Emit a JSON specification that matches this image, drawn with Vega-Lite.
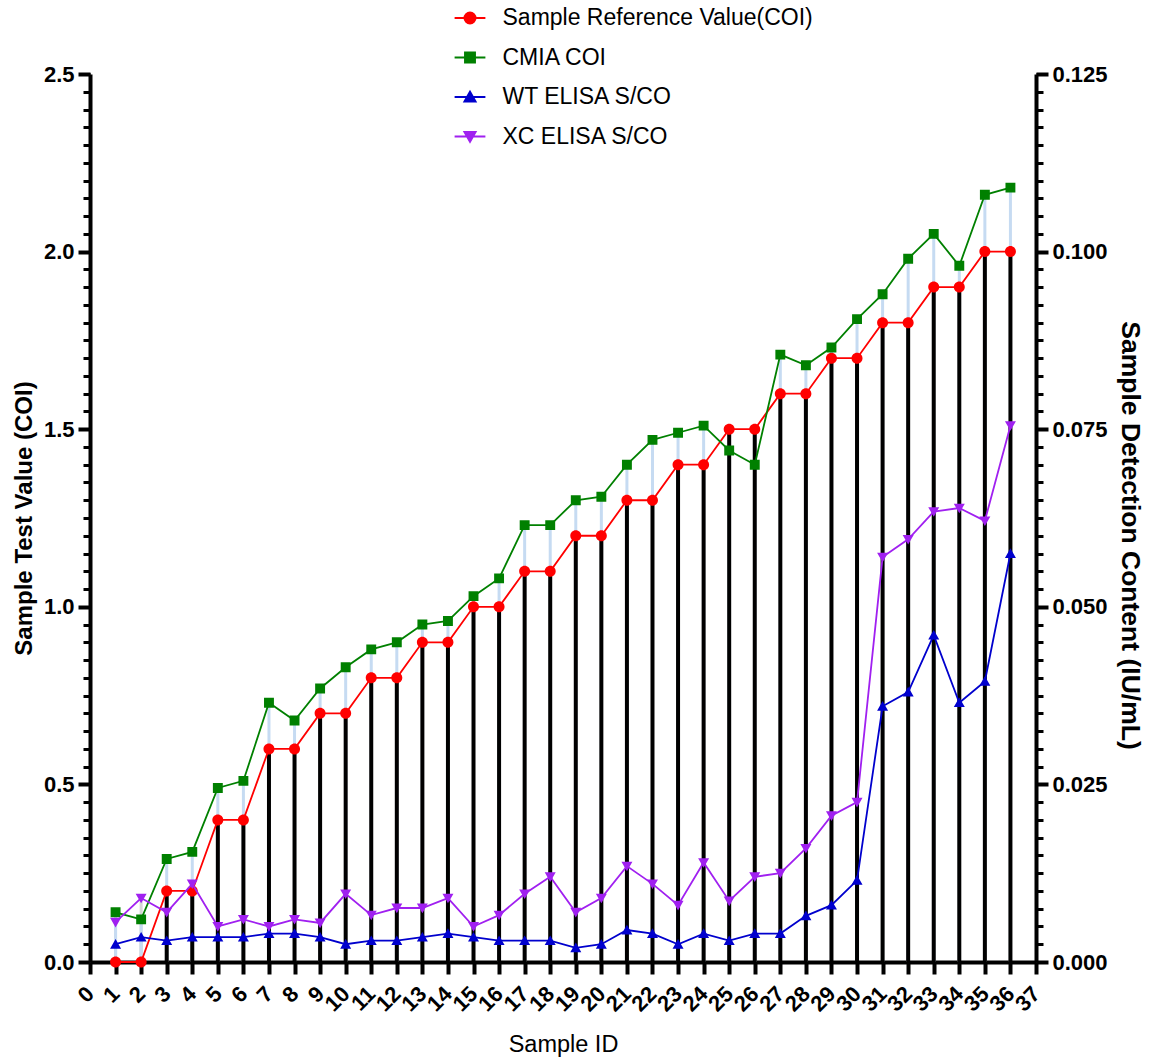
{
  "$schema": "https://vega.github.io/schema/vega-lite/v6.json",
  "width": 946,
  "height": 888,
  "autosize": {"type": "none"},
  "padding": {"left": 90, "top": 74, "right": 123, "bottom": 96},
  "config": {
    "view": {"stroke": null},
    "font": "Liberation Sans",
    "axis": {
      "domainColor": "black", "domainWidth": 4, "tickColor": "black", "tickWidth": 4,
      "tickSize": 12, "grid": false, "labelFont": "Liberation Sans", "labelFontWeight": "bold",
      "labelFontSize": 22, "labelColor": "black", "titleFont": "Liberation Sans",
      "titleFontSize": 24, "titleColor": "black", "titleFontWeight": "bold", "labelPadding": 4
    },
    "legend": {
      "orient": "none", "legendX": 368.5, "legendY": -67.5, "title": null,
      "labelFontSize": 23, "labelColor": "black", "labelFont": "Liberation Sans", "labelLimit": 0,
      "rowPadding": 15.5, "symbolSize": 121, "symbolStrokeWidth": 2, "labelOffset": 21,
      "padding": 0, "symbolOpacity": 1
    }
  },
  "data": {"values": [
    {"id":1,"series":"Sample Reference Value(COI)","value":0},
    {"id":2,"series":"Sample Reference Value(COI)","value":0},
    {"id":3,"series":"Sample Reference Value(COI)","value":0.2},
    {"id":4,"series":"Sample Reference Value(COI)","value":0.2},
    {"id":5,"series":"Sample Reference Value(COI)","value":0.4},
    {"id":6,"series":"Sample Reference Value(COI)","value":0.4},
    {"id":7,"series":"Sample Reference Value(COI)","value":0.6},
    {"id":8,"series":"Sample Reference Value(COI)","value":0.6},
    {"id":9,"series":"Sample Reference Value(COI)","value":0.7},
    {"id":10,"series":"Sample Reference Value(COI)","value":0.7},
    {"id":11,"series":"Sample Reference Value(COI)","value":0.8},
    {"id":12,"series":"Sample Reference Value(COI)","value":0.8},
    {"id":13,"series":"Sample Reference Value(COI)","value":0.9},
    {"id":14,"series":"Sample Reference Value(COI)","value":0.9},
    {"id":15,"series":"Sample Reference Value(COI)","value":1.0},
    {"id":16,"series":"Sample Reference Value(COI)","value":1.0},
    {"id":17,"series":"Sample Reference Value(COI)","value":1.1},
    {"id":18,"series":"Sample Reference Value(COI)","value":1.1},
    {"id":19,"series":"Sample Reference Value(COI)","value":1.2},
    {"id":20,"series":"Sample Reference Value(COI)","value":1.2},
    {"id":21,"series":"Sample Reference Value(COI)","value":1.3},
    {"id":22,"series":"Sample Reference Value(COI)","value":1.3},
    {"id":23,"series":"Sample Reference Value(COI)","value":1.4},
    {"id":24,"series":"Sample Reference Value(COI)","value":1.4},
    {"id":25,"series":"Sample Reference Value(COI)","value":1.5},
    {"id":26,"series":"Sample Reference Value(COI)","value":1.5},
    {"id":27,"series":"Sample Reference Value(COI)","value":1.6},
    {"id":28,"series":"Sample Reference Value(COI)","value":1.6},
    {"id":29,"series":"Sample Reference Value(COI)","value":1.7},
    {"id":30,"series":"Sample Reference Value(COI)","value":1.7},
    {"id":31,"series":"Sample Reference Value(COI)","value":1.8},
    {"id":32,"series":"Sample Reference Value(COI)","value":1.8},
    {"id":33,"series":"Sample Reference Value(COI)","value":1.9},
    {"id":34,"series":"Sample Reference Value(COI)","value":1.9},
    {"id":35,"series":"Sample Reference Value(COI)","value":2.0},
    {"id":36,"series":"Sample Reference Value(COI)","value":2.0},
    {"id":1,"series":"CMIA COI","value":0.14},
    {"id":2,"series":"CMIA COI","value":0.12},
    {"id":3,"series":"CMIA COI","value":0.29},
    {"id":4,"series":"CMIA COI","value":0.31},
    {"id":5,"series":"CMIA COI","value":0.49},
    {"id":6,"series":"CMIA COI","value":0.51},
    {"id":7,"series":"CMIA COI","value":0.73},
    {"id":8,"series":"CMIA COI","value":0.68},
    {"id":9,"series":"CMIA COI","value":0.77},
    {"id":10,"series":"CMIA COI","value":0.83},
    {"id":11,"series":"CMIA COI","value":0.88},
    {"id":12,"series":"CMIA COI","value":0.90},
    {"id":13,"series":"CMIA COI","value":0.95},
    {"id":14,"series":"CMIA COI","value":0.96},
    {"id":15,"series":"CMIA COI","value":1.03},
    {"id":16,"series":"CMIA COI","value":1.08},
    {"id":17,"series":"CMIA COI","value":1.23},
    {"id":18,"series":"CMIA COI","value":1.23},
    {"id":19,"series":"CMIA COI","value":1.30},
    {"id":20,"series":"CMIA COI","value":1.31},
    {"id":21,"series":"CMIA COI","value":1.40},
    {"id":22,"series":"CMIA COI","value":1.47},
    {"id":23,"series":"CMIA COI","value":1.49},
    {"id":24,"series":"CMIA COI","value":1.51},
    {"id":25,"series":"CMIA COI","value":1.44},
    {"id":26,"series":"CMIA COI","value":1.40},
    {"id":27,"series":"CMIA COI","value":1.71},
    {"id":28,"series":"CMIA COI","value":1.68},
    {"id":29,"series":"CMIA COI","value":1.73},
    {"id":30,"series":"CMIA COI","value":1.81},
    {"id":31,"series":"CMIA COI","value":1.88},
    {"id":32,"series":"CMIA COI","value":1.98},
    {"id":33,"series":"CMIA COI","value":2.05},
    {"id":34,"series":"CMIA COI","value":1.96},
    {"id":35,"series":"CMIA COI","value":2.16},
    {"id":36,"series":"CMIA COI","value":2.18},
    {"id":1,"series":"WT ELISA S/CO","value":0.0025},
    {"id":2,"series":"WT ELISA S/CO","value":0.0035},
    {"id":3,"series":"WT ELISA S/CO","value":0.003},
    {"id":4,"series":"WT ELISA S/CO","value":0.0035},
    {"id":5,"series":"WT ELISA S/CO","value":0.0035},
    {"id":6,"series":"WT ELISA S/CO","value":0.0035},
    {"id":7,"series":"WT ELISA S/CO","value":0.004},
    {"id":8,"series":"WT ELISA S/CO","value":0.004},
    {"id":9,"series":"WT ELISA S/CO","value":0.0035},
    {"id":10,"series":"WT ELISA S/CO","value":0.0025},
    {"id":11,"series":"WT ELISA S/CO","value":0.003},
    {"id":12,"series":"WT ELISA S/CO","value":0.003},
    {"id":13,"series":"WT ELISA S/CO","value":0.0035},
    {"id":14,"series":"WT ELISA S/CO","value":0.004},
    {"id":15,"series":"WT ELISA S/CO","value":0.0035},
    {"id":16,"series":"WT ELISA S/CO","value":0.003},
    {"id":17,"series":"WT ELISA S/CO","value":0.003},
    {"id":18,"series":"WT ELISA S/CO","value":0.003},
    {"id":19,"series":"WT ELISA S/CO","value":0.002},
    {"id":20,"series":"WT ELISA S/CO","value":0.0025},
    {"id":21,"series":"WT ELISA S/CO","value":0.0045},
    {"id":22,"series":"WT ELISA S/CO","value":0.004},
    {"id":23,"series":"WT ELISA S/CO","value":0.0025},
    {"id":24,"series":"WT ELISA S/CO","value":0.004},
    {"id":25,"series":"WT ELISA S/CO","value":0.003},
    {"id":26,"series":"WT ELISA S/CO","value":0.004},
    {"id":27,"series":"WT ELISA S/CO","value":0.004},
    {"id":28,"series":"WT ELISA S/CO","value":0.0065},
    {"id":29,"series":"WT ELISA S/CO","value":0.008},
    {"id":30,"series":"WT ELISA S/CO","value":0.0115},
    {"id":31,"series":"WT ELISA S/CO","value":0.036},
    {"id":32,"series":"WT ELISA S/CO","value":0.038},
    {"id":33,"series":"WT ELISA S/CO","value":0.046},
    {"id":34,"series":"WT ELISA S/CO","value":0.0365},
    {"id":35,"series":"WT ELISA S/CO","value":0.0395},
    {"id":36,"series":"WT ELISA S/CO","value":0.0575},
    {"id":1,"series":"XC ELISA S/CO","value":0.0056},
    {"id":2,"series":"XC ELISA S/CO","value":0.009},
    {"id":3,"series":"XC ELISA S/CO","value":0.007},
    {"id":4,"series":"XC ELISA S/CO","value":0.011},
    {"id":5,"series":"XC ELISA S/CO","value":0.005},
    {"id":6,"series":"XC ELISA S/CO","value":0.006},
    {"id":7,"series":"XC ELISA S/CO","value":0.005},
    {"id":8,"series":"XC ELISA S/CO","value":0.006},
    {"id":9,"series":"XC ELISA S/CO","value":0.0055},
    {"id":10,"series":"XC ELISA S/CO","value":0.0096},
    {"id":11,"series":"XC ELISA S/CO","value":0.0066},
    {"id":12,"series":"XC ELISA S/CO","value":0.0076},
    {"id":13,"series":"XC ELISA S/CO","value":0.0076},
    {"id":14,"series":"XC ELISA S/CO","value":0.009},
    {"id":15,"series":"XC ELISA S/CO","value":0.005},
    {"id":16,"series":"XC ELISA S/CO","value":0.0066},
    {"id":17,"series":"XC ELISA S/CO","value":0.0096},
    {"id":18,"series":"XC ELISA S/CO","value":0.012},
    {"id":19,"series":"XC ELISA S/CO","value":0.007},
    {"id":20,"series":"XC ELISA S/CO","value":0.009},
    {"id":21,"series":"XC ELISA S/CO","value":0.0135},
    {"id":22,"series":"XC ELISA S/CO","value":0.011},
    {"id":23,"series":"XC ELISA S/CO","value":0.008},
    {"id":24,"series":"XC ELISA S/CO","value":0.014},
    {"id":25,"series":"XC ELISA S/CO","value":0.0086},
    {"id":26,"series":"XC ELISA S/CO","value":0.012},
    {"id":27,"series":"XC ELISA S/CO","value":0.0125},
    {"id":28,"series":"XC ELISA S/CO","value":0.016},
    {"id":29,"series":"XC ELISA S/CO","value":0.0206},
    {"id":30,"series":"XC ELISA S/CO","value":0.0225},
    {"id":31,"series":"XC ELISA S/CO","value":0.057},
    {"id":32,"series":"XC ELISA S/CO","value":0.0595},
    {"id":33,"series":"XC ELISA S/CO","value":0.0634},
    {"id":34,"series":"XC ELISA S/CO","value":0.0639},
    {"id":35,"series":"XC ELISA S/CO","value":0.0621},
    {"id":36,"series":"XC ELISA S/CO","value":0.0755}
  ]},
  "encoding": {
    "x": {
      "field": "id", "type": "quantitative",
      "scale": {"domain": [0, 37], "nice": false, "zero": false},
      "axis": {
        "values": [0,1,2,3,4,5,6,7,8,9,10,11,12,13,14,15,16,17,18,19,20,21,22,23,24,25,26,27,28,29,30,31,32,33,34,35,36,37],
        "format": "d", "labelAngle": -45, "labelAlign": "right", "labelBaseline": "middle",
        "labelPadding": 16, "labelOverlap": false, "labelFlush": false, "labelBound": false,
        "title": "Sample ID", "titleFontWeight": "normal", "titleFontSize": 23.5, "titlePadding": 17
      }
    }
  },
  "layer": [
    {
      "transform": [{"filter": {"field": "series", "oneOf": ["WT ELISA S/CO", "XC ELISA S/CO"]}}],
      "encoding": {
        "y": {"field": "value", "type": "quantitative",
          "scale": {"domain": [0, 0.125], "nice": false, "zero": true},
          "axis": {"orient": "right", "labels": false, "domain": false, "title": null, "tickSize": 7, "tickWidth": 3,
            "values": [0,0.0025,0.005,0.0075,0.01,0.0125,0.015,0.0175,0.02,0.0225,0.025,0.0275,0.03,0.0325,0.035,0.0375,0.04,0.0425,0.045,0.0475,0.05,0.0525,0.055,0.0575,0.06,0.0625,0.065,0.0675,0.07,0.0725,0.075,0.0775,0.08,0.0825,0.085,0.0875,0.09,0.0925,0.095,0.0975,0.1,0.1025,0.105,0.1075,0.11,0.1125,0.115,0.1175,0.12,0.1225,0.125]}},
        "y2": {"datum": 0}
      },
      "layer": [
        {"transform": [{"filter": "datum.series === 'WT ELISA S/CO'"}], "mark": {"type": "rule", "color": "#c8c8c8", "strokeWidth": 3}},
        {"transform": [{"filter": "datum.series === 'XC ELISA S/CO'"}], "mark": {"type": "rule", "color": "#d6d6d6", "strokeWidth": 3}}
      ]
    },
    {
      "transform": [{"filter": {"field": "series", "oneOf": ["Sample Reference Value(COI)", "CMIA COI"]}}],
      "encoding": {
        "y": {"field": "value", "type": "quantitative",
          "scale": {"domain": [0, 2.5], "nice": false, "zero": true},
          "axis": {"orient": "left", "values": [0, 0.5, 1, 1.5, 2, 2.5], "format": ".1f", "title": "Sample Test Value (COI)", "titlePadding": 7}},
        "y2": {"datum": 0}
      },
      "layer": [
        {"transform": [{"filter": "datum.series === 'CMIA COI'"}], "mark": {"type": "rule", "color": "#c6dbf2", "strokeWidth": 3}},
        {"transform": [{"filter": "datum.series === 'Sample Reference Value(COI)'"}], "mark": {"type": "rule", "color": "black", "strokeWidth": 4}}
      ]
    },
    {
      "transform": [{"filter": {"field": "series", "oneOf": ["Sample Reference Value(COI)", "CMIA COI"]}}],
      "encoding": {
        "y": {"field": "value", "type": "quantitative",
          "scale": {"domain": [0, 2.5], "nice": false, "zero": true},
          "axis": {"orient": "left", "labels": false, "domain": false, "title": null, "tickSize": 7, "tickWidth": 3,
            "values": [0,0.05,0.1,0.15,0.2,0.25,0.3,0.35,0.4,0.45,0.5,0.55,0.6,0.65,0.7,0.75,0.8,0.85,0.9,0.95,1,1.05,1.1,1.15,1.2,1.25,1.3,1.35,1.4,1.45,1.5,1.55,1.6,1.65,1.7,1.75,1.8,1.85,1.9,1.95,2,2.05,2.1,2.15,2.2,2.25,2.3,2.35,2.4,2.45,2.5]}},
        "stroke": {"field": "series", "type": "nominal",
          "scale": {"domain": ["Sample Reference Value(COI)", "CMIA COI", "WT ELISA S/CO", "XC ELISA S/CO"], "range": ["#ff0000", "#008000", "#0000cd", "#a020f0"]}}
      },
      "layer": [
        {"mark": {"type": "line", "strokeWidth": 1.8}},
        {"mark": {"type": "point", "filled": true, "size": 121, "opacity": 1, "strokeWidth": 0},
         "encoding": {
           "color": {"field": "series", "type": "nominal",
             "scale": {"domain": ["Sample Reference Value(COI)", "CMIA COI", "WT ELISA S/CO", "XC ELISA S/CO"], "range": ["#ff0000", "#008000", "#0000cd", "#a020f0"]}},
           "shape": {"field": "series", "type": "nominal",
             "scale": {"domain": ["Sample Reference Value(COI)", "CMIA COI", "WT ELISA S/CO", "XC ELISA S/CO"],
               "range": ["M-2.8,0L2.8,0M1,0A1,1,0,1,1,-1,0A1,1,0,1,1,1,0Z", "M-2.8,0L2.8,0M-0.9,-0.9L0.9,-0.9L0.9,0.9L-0.9,0.9Z", "M-2.8,0L2.8,0M0,-0.95L1,0.8L-1,0.8Z", "M-2.8,0L2.8,0M0,0.95L1,-0.8L-1,-0.8Z"]},
             "legend": {"encode": {"symbols": {"strokeWidth": {"value": 2}}}}}
         }}
      ]
    },
    {
      "transform": [{"filter": {"field": "series", "oneOf": ["WT ELISA S/CO", "XC ELISA S/CO"]}}],
      "encoding": {
        "y": {"field": "value", "type": "quantitative",
          "scale": {"domain": [0, 0.125], "nice": false, "zero": true},
          "axis": {"orient": "right", "values": [0, 0.025, 0.05, 0.075, 0.1, 0.125], "format": ".3f", "title": "Sample Detection Content (IU/mL)", "titleFontSize": 26.5, "titlePadding": 8, "titleY": 461}},
        "stroke": {"field": "series", "type": "nominal",
          "scale": {"domain": ["Sample Reference Value(COI)", "CMIA COI", "WT ELISA S/CO", "XC ELISA S/CO"], "range": ["#ff0000", "#008000", "#0000cd", "#a020f0"]}}
      },
      "layer": [
        {"mark": {"type": "line", "strokeWidth": 1.8}},
        {"mark": {"type": "point", "filled": true, "size": 121, "opacity": 1, "strokeWidth": 0},
         "encoding": {
           "color": {"field": "series", "type": "nominal",
             "scale": {"domain": ["Sample Reference Value(COI)", "CMIA COI", "WT ELISA S/CO", "XC ELISA S/CO"], "range": ["#ff0000", "#008000", "#0000cd", "#a020f0"]}},
           "shape": {"field": "series", "type": "nominal",
             "scale": {"domain": ["Sample Reference Value(COI)", "CMIA COI", "WT ELISA S/CO", "XC ELISA S/CO"],
               "range": ["M-2.8,0L2.8,0M1,0A1,1,0,1,1,-1,0A1,1,0,1,1,1,0Z", "M-2.8,0L2.8,0M-0.9,-0.9L0.9,-0.9L0.9,0.9L-0.9,0.9Z", "M-2.8,0L2.8,0M0,-0.95L1,0.8L-1,0.8Z", "M-2.8,0L2.8,0M0,0.95L1,-0.8L-1,-0.8Z"]},
             "legend": {"encode": {"symbols": {"strokeWidth": {"value": 2}}}}}
         }}
      ]
    }
  ],
  "resolve": {"scale": {"y": "independent"}, "axis": {"y": "independent"}}
}
